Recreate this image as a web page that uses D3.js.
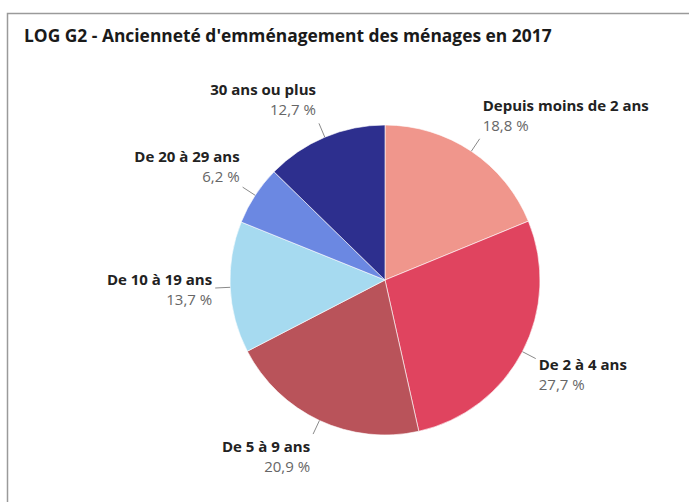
<!DOCTYPE html>
<html>
<head>
<meta charset="utf-8">
<script src="https://cdn.jsdelivr.net/npm/d3@7"></script>
<style>
	body { margin: 0; background: #fff; }
	svg text { font-family: "Open Sans", sans-serif; }
</style>
</head>
<body>
<div id="chart"></div>
<script>
var w = 689;
var h = 502;

var categories = ["Depuis moins de 2 ans", "De 2 à 4 ans", "De 5 à 9 ans", "De 10 à 19 ans", "De 20 à 29 ans", "30 ans ou plus"];
var values = [18.8, 27.7, 20.9, 13.7, 6.2, 12.7];
var sliceColors = ["#f0968c", "#e0445f", "#b9535a", "#a6daf0", "#6b88e2", "#2d2f8e"];

var cx = 385;
var cy = 280;
var radius = 155;
var leaderOut = 170;

var svg = d3.select("#chart")
	.append("svg")
	.attr("width", w)
	.attr("height", h);

// frame (top and left edges only)
svg.append("path")
	.attr("d", "M7.5," + h + "V13.5H" + w)
	.attr("fill", "none")
	.attr("stroke", "#9a9a9a")
	.attr("stroke-width", 1.5);

svg.append("text")
	.attr("x", 24)
	.attr("y", 42)
	.attr("font-size", "17.4px")
	.attr("font-weight", "bold")
	.attr("fill", "#1a1a1a")
	.text("LOG G2 - Ancienneté d'emménagement des ménages en 2017");

var data = categories.map(function (c, i) {
	return { name: c, value: values[i], color: sliceColors[i] };
});

var pie = d3.pie()
	.sort(null)
	.value(function (d) { return d.value; });

var arc = d3.arc()
	.innerRadius(0)
	.outerRadius(radius);

var arcs = pie(data);

var g = svg.append("g")
	.attr("transform", "translate(" + cx + "," + cy + ")");

g.selectAll("path.slice")
	.data(arcs)
	.enter()
	.append("path")
	.attr("class", "slice")
	.attr("d", arc)
	.attr("fill", function (d) { return d.data.color; })
	.attr("stroke", "#fff")
	.attr("stroke-width", 0.6);

function midAngle(d) {
	return (d.startAngle + d.endAngle) / 2;
}

function polar(a, r) {
	return [Math.sin(a) * r, -Math.cos(a) * r];
}

// leader lines
g.selectAll("line.leader")
	.data(arcs)
	.enter()
	.append("line")
	.attr("class", "leader")
	.attr("x1", function (d) { return polar(midAngle(d), radius)[0]; })
	.attr("y1", function (d) { return polar(midAngle(d), radius)[1]; })
	.attr("x2", function (d) { return polar(midAngle(d), leaderOut)[0]; })
	.attr("y2", function (d) { return polar(midAngle(d), leaderOut)[1]; })
	.attr("stroke", "#8a8a8a")
	.attr("stroke-width", 1);

var labels = g.selectAll("g.label")
	.data(arcs)
	.enter()
	.append("g")
	.attr("class", "label")
	.attr("transform", function (d) {
		var a = midAngle(d);
		var p = polar(a, leaderOut);
		var right = Math.sin(a) >= 0;
		var x = p[0] + (right ? 3 : -3);
		var shift = -Math.max(-23, Math.min(23, Math.cos(a) * 36));
		return "translate(" + x + "," + (p[1] + shift) + ")";
	})
	.attr("text-anchor", function (d) { return Math.sin(midAngle(d)) >= 0 ? "start" : "end"; });

labels.append("text")
	.attr("y", -5)
	.attr("font-size", "15px")
	.attr("font-weight", "bold")
	.attr("fill", "#222")
	.text(function (d) { return d.data.name; });

labels.append("text")
	.attr("y", 15)
	.attr("font-size", "15px")
	.attr("fill", "#666")
	.text(function (d) { return d3.format(".1f")(d.data.value).replace(".", ",") + " %"; });
</script>
</body>
</html>
